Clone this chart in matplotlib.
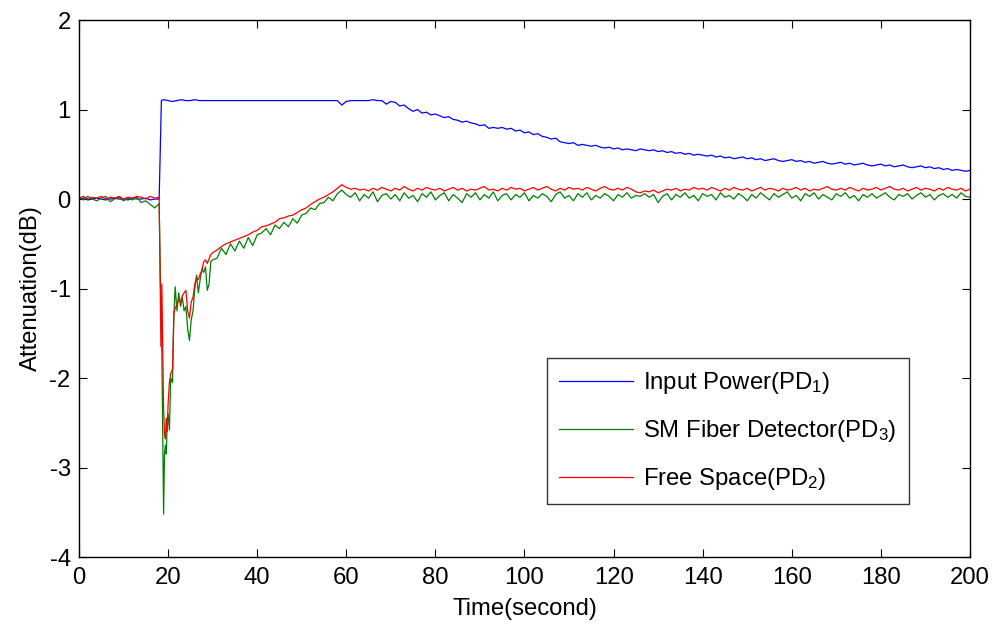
import matplotlib
matplotlib.use("Agg")
import matplotlib.pyplot as plt

plt.rcParams['font.family'] = ['Liberation Sans', 'DejaVu Sans']
plt.rcParams['mathtext.fontset'] = 'custom'
plt.rcParams['mathtext.rm'] = 'Liberation Sans'
plt.rcParams['mathtext.it'] = 'Liberation Sans'
plt.rcParams['mathtext.default'] = 'regular'
plt.rcParams['axes.unicode_minus'] = False

# ---------------- data ----------------
x_ticks = [0, 20, 40, 60, 80, 100, 120, 140, 160, 180, 200]
y_ticks = [-4, -3, -2, -1, 0, 1, 2]
labels = ['Input Power(PD$_1$)', 'SM Fiber Detector(PD$_3$)', 'Free Space(PD$_2$)']

# Input power (blue): time grid 0..18, 18.5, 19..200
blue_t = list(range(0, 19)) + [18.5] + list(range(19, 201))
blue_v = [
    0.00, 0.01, -0.01, 0.00, 0.01, 0.00, -0.01, 0.00, 0.01, 0.00,
    0.00, -0.01, 0.01, 0.00, 0.00, 0.01, -0.01, 0.00, 0.00,
    1.10,
    1.11, 1.10, 1.09, 1.10, 1.11, 1.10, 1.10, 1.11, 1.10, 1.10,   # 19-28
    1.10, 1.10, 1.10, 1.10, 1.10, 1.10, 1.10, 1.10, 1.10, 1.10,   # 29-38
    1.10, 1.10, 1.10, 1.10, 1.10, 1.10, 1.10, 1.10, 1.10, 1.10,   # 39-48
    1.10, 1.10, 1.10, 1.10, 1.10, 1.10, 1.10, 1.10, 1.10, 1.10,   # 49-58
    1.05, 1.09, 1.10, 1.10, 1.10, 1.10, 1.10, 1.11, 1.10, 1.10,   # 59-68
    1.06, 1.09, 1.08, 1.04, 1.05, 1.01, 0.98, 1.00, 0.96, 0.97,   # 69-78
    0.94, 0.95, 0.93, 0.91, 0.92, 0.89, 0.88, 0.86, 0.87, 0.85,   # 79-88
    0.84, 0.82, 0.83, 0.79, 0.80, 0.79, 0.80, 0.78, 0.79, 0.76,   # 89-98
    0.77, 0.74, 0.75, 0.72, 0.73, 0.70, 0.69, 0.67, 0.68, 0.64,   # 99-108
    0.63, 0.62, 0.63, 0.60, 0.61, 0.60, 0.59, 0.60, 0.58, 0.57,   # 109-118
    0.58, 0.56, 0.57, 0.55, 0.56, 0.55, 0.54, 0.56, 0.55, 0.54,   # 119-128
    0.55, 0.53, 0.54, 0.52, 0.53, 0.51, 0.52, 0.50, 0.51, 0.49,   # 129-138
    0.50, 0.49, 0.48, 0.49, 0.47, 0.48, 0.46, 0.47, 0.45, 0.46,   # 139-148
    0.47, 0.45, 0.46, 0.44, 0.45, 0.43, 0.44, 0.45, 0.43, 0.42,   # 149-158
    0.43, 0.44, 0.42, 0.43, 0.41, 0.42, 0.40, 0.41, 0.42, 0.40,   # 159-168
    0.39, 0.40, 0.41, 0.39, 0.40, 0.38, 0.39, 0.40, 0.38, 0.37,   # 169-178
    0.38, 0.39, 0.37, 0.38, 0.36, 0.37, 0.38, 0.36, 0.35, 0.36,   # 179-188
    0.37, 0.35, 0.36, 0.34, 0.35, 0.33, 0.34, 0.32, 0.33, 0.32,   # 189-198
    0.31, 0.32,                                                   # 199-200
]

# Green / red shared time grid
spike_t = [18.4, 18.6, 18.8, 19.0, 19.2, 19.4, 19.6, 19.8, 20.0, 20.3,
           20.6, 21.0, 21.3, 21.6, 22.0, 22.4, 22.8, 23.2, 23.6, 24.0,
           24.4, 24.8, 25.2, 25.6, 26.0, 26.4, 26.8, 27.2, 27.6, 28.0,
           28.4, 28.8, 29.2, 29.6, 30.0]
gr_t = list(range(0, 19)) + spike_t + list(range(31, 201))

green_v = [
    0.02, -0.01, 0.03, 0.00, -0.02, 0.01, 0.03, -0.03, 0.00, 0.02,
    -0.02, 0.01, -0.01, 0.02, -0.04, -0.02, -0.06, -0.10, -0.05,
    # spike
    -1.25, -1.70, -2.60, -3.52, -2.85, -2.75, -2.85, -2.50, -2.40, -2.58,
    -2.00, -2.05, -1.30, -0.98, -1.25, -1.05, -1.20, -1.10, -1.25, -1.20,
    -1.45, -1.58, -1.35, -1.25, -1.00, -0.85, -1.05, -0.90, -0.78, -0.82,
    -0.76, -1.02, -0.95, -0.70, -0.68,
    # 31-200
    -0.66, -0.55, -0.62, -0.50, -0.58, -0.47, -0.55, -0.43, -0.52, -0.40,
    -0.38, -0.33, -0.40, -0.29, -0.33, -0.26, -0.31, -0.22, -0.27, -0.18,
    -0.16, -0.10, -0.12, -0.05, -0.04, 0.02, -0.02, 0.06, 0.10, 0.05,
    0.02, 0.07, -0.02, 0.05, 0.01, 0.08, -0.03, 0.04, 0.06, 0.00,
    0.05, -0.02, 0.07, 0.01, 0.04, -0.03, 0.06, 0.02, 0.08, -0.01,
    0.04, 0.07, -0.02, 0.05, 0.01, -0.04, 0.06, 0.02, 0.07, -0.01,
    0.05, 0.01, 0.08, -0.02, 0.04, 0.06, -0.01, 0.05, 0.02, 0.07,
    -0.02, 0.04, 0.01, 0.06, 0.03, -0.03, 0.05, 0.08, 0.01, 0.04,
    -0.02, 0.06, 0.02, 0.07, -0.01, 0.04, 0.01, 0.06, 0.03, -0.02,
    0.05, 0.02, 0.07, 0.01, 0.04, 0.03, 0.06, 0.02, 0.05, -0.04,
    0.03, 0.06, -0.01, 0.05, 0.02, 0.07, 0.01, 0.04, -0.02, 0.06,
    0.03, 0.05, -0.01, 0.07, 0.02, 0.04, 0.00, 0.06, 0.03, -0.02,
    0.05, 0.01, 0.07, 0.03, -0.01, 0.06, 0.02, 0.05, 0.08, 0.01,
    0.04, -0.02, 0.06, 0.03, 0.07, 0.00, 0.05, 0.02, -0.01, 0.06,
    0.03, 0.07, 0.01, 0.04, -0.02, 0.05, 0.02, 0.06, 0.01, 0.04,
    0.07, 0.02, -0.01, 0.05, 0.03, 0.06, 0.00, 0.04, 0.07, 0.02,
    0.05, -0.01, 0.04, 0.06, 0.02, 0.05, 0.01, 0.07, 0.03, 0.02,
]

red_v = [
    0.01, 0.03, 0.00, 0.02, 0.01, 0.03, 0.00, 0.02, 0.01, 0.03,
    0.00, 0.02, 0.01, 0.03, 0.02, 0.00, 0.03, 0.01, 0.02,
    # spike
    -1.65, -0.95, -1.65, -2.35, -2.62, -2.68, -2.45, -2.60, -2.30, -2.05,
    -1.95, -1.90, -1.28, -1.22, -1.18, -1.12, -1.15, -1.08, -1.05, -1.02,
    -1.25, -1.33, -1.15, -1.10, -0.95, -0.88, -0.90, -0.84, -0.80, -0.70,
    -0.68, -0.72, -0.67, -0.62, -0.60,
    # 31-200
    -0.57, -0.53, -0.50, -0.48, -0.46, -0.44, -0.42, -0.40, -0.37, -0.35,
    -0.31, -0.30, -0.28, -0.26, -0.22, -0.21, -0.19, -0.18, -0.15, -0.12,
    -0.10, -0.06, -0.03, 0.00, 0.02, 0.05, 0.08, 0.12, 0.16, 0.13,
    0.11, 0.12, 0.10, 0.11, 0.09, 0.12, 0.10, 0.13, 0.11, 0.09,
    0.12, 0.10, 0.14, 0.11, 0.09, 0.12, 0.10, 0.13, 0.11, 0.10,
    0.12, 0.09, 0.11, 0.13, 0.10, 0.12, 0.09, 0.11, 0.10, 0.12,
    0.14, 0.10, 0.11, 0.09, 0.12, 0.10, 0.13, 0.11, 0.12, 0.09,
    0.11, 0.13, 0.10, 0.12, 0.14, 0.11, 0.09, 0.12, 0.10, 0.13,
    0.11, 0.12, 0.10, 0.13, 0.11, 0.09, 0.12, 0.14, 0.11, 0.10,
    0.12, 0.10, 0.13, 0.11, 0.08, 0.07, 0.09, 0.08, 0.10, 0.07,
    0.09, 0.11, 0.10, 0.12, 0.09, 0.11, 0.10, 0.13, 0.11, 0.12,
    0.10, 0.13, 0.11, 0.09, 0.12, 0.10, 0.13, 0.11, 0.10, 0.12,
    0.09, 0.11, 0.13, 0.10, 0.12, 0.11, 0.09, 0.12, 0.10, 0.11,
    0.13, 0.10, 0.12, 0.09, 0.11, 0.10, 0.12, 0.14, 0.11, 0.10,
    0.12, 0.10, 0.13, 0.11, 0.09, 0.12, 0.10, 0.11, 0.13, 0.10,
    0.12, 0.14, 0.11, 0.10, 0.12, 0.09, 0.11, 0.13, 0.10, 0.12,
    0.11, 0.09, 0.12, 0.10, 0.13, 0.11, 0.10, 0.12, 0.09, 0.11,
]

# ---------------- plot ----------------
fig = plt.figure(figsize=(9.97, 6.26), dpi=100)
ax = fig.add_axes([0.0792, 0.1102, 0.8937, 0.8578])

lw = 0.9
ax.plot(blue_t, blue_v, color='#0000ff', lw=lw, label=labels[0])
ax.plot(gr_t, green_v, color='#008000', lw=lw, label=labels[1])
ax.plot(gr_t, red_v, color='#ff0000', lw=lw, label=labels[2])

ax.set_xlim(0, 200)
ax.set_ylim(-4, 2)
ax.set_xticks(x_ticks)
ax.set_yticks(y_ticks)
fs = 17.2
ax.tick_params(direction='in', length=6, width=0.8, top=True, right=True,
               labelsize=fs)
ax.tick_params(axis='x', pad=7)
ax.tick_params(axis='y', pad=6)
for s in ax.spines.values():
    s.set_linewidth(1.0)
ax.set_xlabel('Time(second)', fontsize=fs, labelpad=7)
ax.set_ylabel('Attenuation(dB)', fontsize=fs, labelpad=5)

leg = ax.legend(loc='upper left', bbox_to_anchor=(0.525, 0.3706),
                fontsize=fs, frameon=True, fancybox=False, shadow=False,
                borderaxespad=0, handlelength=3.1, handletextpad=0.45,
                labelspacing=0.92, borderpad=0.5)
leg.get_frame().set_edgecolor('black')
leg.get_frame().set_linewidth(1.0)

fig.savefig('out.png', dpi=100)
